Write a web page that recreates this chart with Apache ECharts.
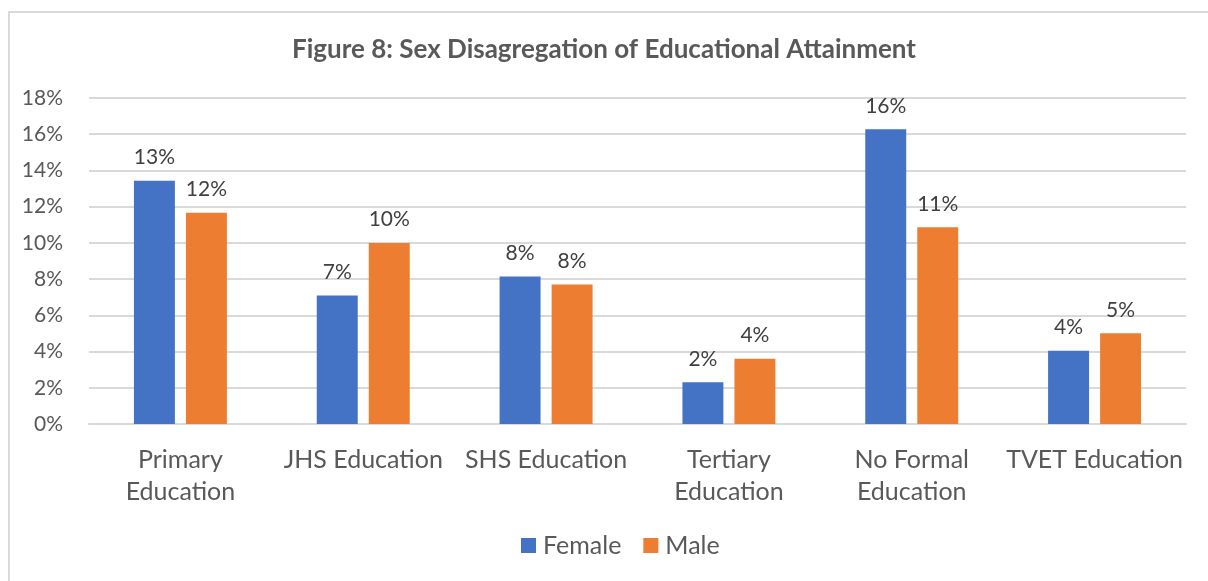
<!DOCTYPE html>
<html>
<head>
<meta charset="utf-8">
<script src="https://cdn.jsdelivr.net/npm/echarts@6/dist/echarts.min.js"></script>
<style>
  html, body { margin: 0; padding: 0; background: #fff; overflow: hidden; }
  #frame { position: absolute; left: 8px; top: 11px; width: 1210px; height: 580px; border: 2px solid #d9d9d9; box-sizing: border-box; }
  #chart { position: absolute; left: 0; top: 0; width: 1208px; height: 581px; }
</style>
</head>
<body>
<div id="frame"></div>
<div id="chart"></div>
<script>
// Educational attainment by sex, share of population (%)
const categories = ['Primary\nEducation', 'JHS Education', 'SHS Education', 'Tertiary\nEducation', 'No Formal\nEducation', 'TVET Education'];
const female = [13.43, 7.1, 8.15, 2.3, 16.27, 4.05];
const male = [11.67, 10.0, 7.7, 3.6, 10.86, 5.01];
const yTicks = { min: 0, max: 18, interval: 2 };

const textColor = '#595959';
const fontFamily = 'Lato, "Open Sans", sans-serif';

const chart = echarts.init(document.getElementById('chart'), null, { renderer: 'canvas' });

const barLabel = {
  show: true,
  position: 'top',
  distance: 13,
  color: '#404040',
  fontFamily: fontFamily,
  fontSize: 21,
  formatter: p => Math.round(p.value) + '%'
};

chart.setOption({
  animation: false,
  textStyle: { fontFamily: fontFamily },
  title: {
    text: 'Figure 8: Sex Disagregation of Educational Attainment',
    left: 'center',
    top: 32,
    textStyle: { color: textColor, fontSize: 26, fontWeight: 'bold', fontFamily: fontFamily }
  },
  legend: {
    bottom: 18,
    left: 516,
    itemWidth: 15,
    itemHeight: 15,
    itemGap: 22,
    icon: 'rect',
    textStyle: { color: textColor, fontSize: 25, fontFamily: fontFamily, padding: [0, 0, 0, 2] },
    data: ['Female', 'Male']
  },
  grid: { left: 89, right: 22, top: 98, bottom: 157, containLabel: false },
  xAxis: {
    type: 'category',
    data: categories,
    axisLine: { show: true, lineStyle: { color: '#d9d9d9', width: 2 } },
    axisTick: { show: false },
    axisLabel: { color: textColor, fontSize: 25, lineHeight: 32, margin: 20, fontFamily: fontFamily, interval: 0 }
  },
  yAxis: {
    type: 'value',
    min: yTicks.min,
    max: yTicks.max,
    interval: yTicks.interval,
    axisLine: { show: false },
    axisTick: { show: false },
    splitLine: { lineStyle: { color: '#d9d9d9', width: 2 } },
    axisLabel: { color: textColor, fontSize: 21, margin: 26, fontFamily: fontFamily, formatter: v => v + '%' }
  },
  series: [
    {
      name: 'Female',
      type: 'bar',
      data: female,
      barWidth: '22.4%',
      barGap: '27%',
      itemStyle: { color: '#4472C4' },
      label: barLabel
    },
    {
      name: 'Male',
      type: 'bar',
      data: male,
      barWidth: '22.4%',
      itemStyle: { color: '#ED7D31' },
      label: barLabel
    }
  ]
});
</script>
</body>
</html>
